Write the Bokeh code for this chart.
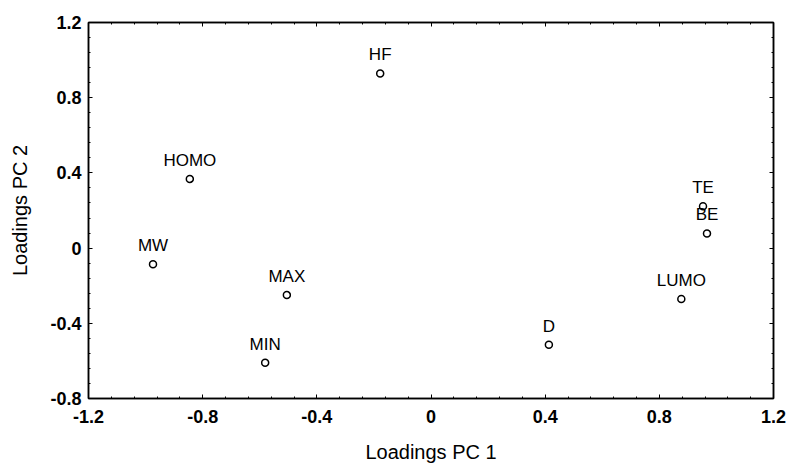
from bokeh.plotting import figure
from bokeh.models import ColumnDataSource, LabelSet, LinearAxis, FixedTicker, Range1d
from bokeh.core.properties import value
from bokeh.embed import file_html
from bokeh.resources import INLINE

# Loadings of each descriptor on the first two principal components
names = ["HF", "HOMO", "MW", "MAX", "MIN", "D", "TE", "BE", "LUMO"]
pc1 = [-0.178, -0.845, -0.974, -0.505, -0.581, 0.413, 0.953, 0.967, 0.877]
pc2 = [0.929, 0.368, -0.086, -0.250, -0.610, -0.514, 0.223, 0.078, -0.271]

x_ticks = [-1.2, -0.8, -0.4, 0, 0.4, 0.8, 1.2]
x_tick_labels = ["-1.2", "-0.8", "-0.4", "0", "0.4", "0.8", "1.2"]
y_ticks = [-0.8, -0.4, 0, 0.4, 0.8, 1.2]
y_tick_labels = ["-0.8", "-0.4", "0", "0.4", "0.8", "1.2"]

FONT = "Liberation Sans"

src = ColumnDataSource(dict(x=pc1, y=pc2, name=names))

p = figure(width=788, height=465, output_backend="svg", toolbar_location=None,
           x_range=Range1d(-1.2, 1.2), y_range=Range1d(-0.8, 1.2),
           min_border_left=88, min_border_right=15, min_border_top=22,
           min_border_bottom=65, x_axis_label="Loadings PC 1",
           y_axis_label="Loadings PC 2")
p.grid.visible = False
p.outline_line_color = "black"
p.outline_line_width = 1.5
p.background_fill_color = "white"
p.border_fill_color = "white"


def style_axis(ax, ticks, labels, show_labels=True):
    # major ticks at the labelled values, five minor intervals between them
    ax.ticker = FixedTicker(ticks=ticks, minor_ticks=[
        round(ticks[0] + i * 0.08, 4)
        for i in range(int(round((ticks[-1] - ticks[0]) / 0.08)) + 1)])
    ax.axis_line_color = "black"
    ax.axis_line_width = 1.5
    ax.major_tick_in = 4
    ax.major_tick_out = 0
    ax.minor_tick_in = 2
    ax.minor_tick_out = 0
    ax.major_tick_line_color = "black"
    ax.minor_tick_line_color = "black"
    if show_labels:
        ax.major_label_overrides = {t: l for t, l in zip(ticks, labels)}
        ax.major_label_text_font = FONT
        ax.major_label_text_font_style = "bold"
        ax.major_label_text_font_size = "18px"
        ax.major_label_text_color = "black"
        ax.axis_label_text_font = FONT
        ax.axis_label_text_font_style = "normal"
        ax.axis_label_text_font_size = "20px"
        ax.axis_label_text_color = "black"
    else:
        ax.major_label_overrides = {t: "" for t in ticks}


style_axis(p.xaxis[0], x_ticks, x_tick_labels)
style_axis(p.yaxis[0], y_ticks, y_tick_labels)
p.xaxis[0].major_label_standoff = 11
p.xaxis[0].axis_label_standoff = 15
p.yaxis[0].major_label_standoff = 7
p.yaxis[0].axis_label_standoff = 16

top = LinearAxis()
right = LinearAxis()
style_axis(top, x_ticks, x_tick_labels, show_labels=False)
style_axis(right, y_ticks, y_tick_labels, show_labels=False)
p.add_layout(top, "above")
p.add_layout(right, "right")

p.scatter("x", "y", source=src, size=7, marker="circle",
          fill_color="white", line_color="black", line_width=1.5)

labels = LabelSet(x="x", y="y", text="name", source=src, y_offset=9,
                  text_align="center", text_baseline="bottom",
                  text_font=value(FONT), text_font_size=value("17px"),
                  text_color="black")
p.add_layout(labels)

open("out.html", "w").write(file_html(p, INLINE))
